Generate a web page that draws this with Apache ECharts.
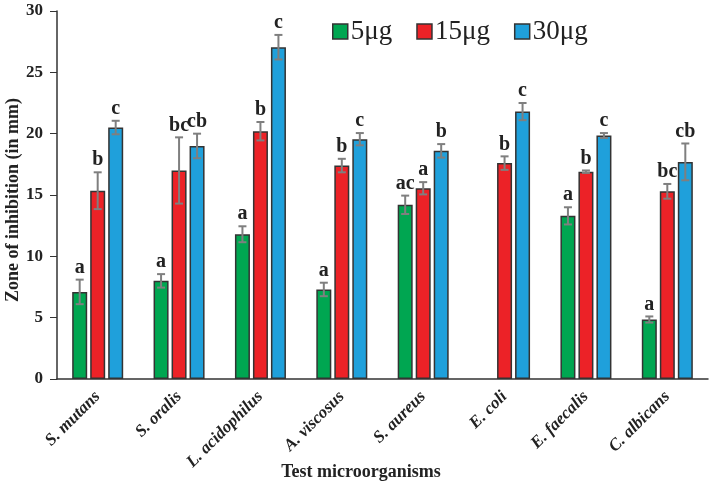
<!DOCTYPE html>
<html><head><meta charset="utf-8">
<script src="https://cdn.jsdelivr.net/npm/echarts@6/dist/echarts.min.js"></script>
<style>html,body{margin:0;padding:0;background:#fff}#c{width:710px;height:487px}</style>
</head><body><div id="c"></div>
<script>
var categories = ['S. mutans','S. oralis','L. acidophilus','A. viscosus','S. aureus','E. coli','E. faecalis','C. albicans'];
var seriesNames = ['5\u03bcg','15\u03bcg','30\u03bcg'];
var values5 = [7.1, 8.0, 11.8, 7.3, 14.2, null, 13.3, 4.85];
var values15 = [15.35, 17.0, 20.2, 17.4, 15.55, 17.6, 16.9, 15.3];
var values30 = [20.5, 19.0, 27.05, 19.55, 18.6, 21.8, 19.85, 17.7];
var err5 = [1.0, 0.55, 0.65, 0.55, 0.75, null, 0.7, 0.25];
var err15 = [1.5, 2.7, 0.75, 0.55, 0.5, 0.55, 0.1, 0.6];
var err30 = [0.55, 1.0, 1.0, 0.5, 0.55, 0.7, 0.2, 1.5];
var letters5 = ['a','a','a','a','ac','','a','a'];
var letters15 = ['b','bc','b','b','a','b','b','bc'];
var letters30 = ['c','cb','c','c','b','c','c','cb'];
var yTicks = [0,5,10,15,20,25,30];
var xTitle = 'Test microorganisms';
var yTitle = 'Zone of inhibition (in mm)';

var colors = ['#00A651','#EC2227','#1FA0DB'];
var allValues = [values5, values15, values30];
var allErr = [err5, err15, err30];
var allLetters = [letters5, letters15, letters30];
var BAR_W = 15, GAP = 0.2;
var serif = 'Liberation Serif, Times New Roman, serif';

var series = [];
allValues.forEach(function(v, i){
  series.push({
    name: seriesNames[i], type: 'bar', data: v, barWidth: BAR_W, barGap: (GAP*100)+'%',
    itemStyle: {color: colors[i], borderColor: '#333', borderWidth: 1.5},
    z: 2
  });
});
allValues.forEach(function(v, i){
  var d = v.map(function(val, k){ return [k, val, allErr[i][k], allLetters[i][k]]; }).filter(function(r){return r[1]!=null;});
  series.push({
    type: 'custom', name: 'err'+i, data: d, z: 5,
    renderItem: function(params, api){
      var k = api.value(0), val = api.value(1), e = api.value(2);
      var txt = d[params.dataIndex][3];
      var off = (i-1)*BAR_W*(1+GAP);
      var top = api.coord([k, val+e]);
      var bot = api.coord([k, val-e]);
      var x = top[0]+off, cap = 4;
      var st = {stroke:'#7f7f7f', lineWidth:2};
      return {type:'group', children:[
        {type:'line', shape:{x1:x,y1:top[1],x2:x,y2:bot[1]}, style:st},
        {type:'line', shape:{x1:x-cap,y1:top[1],x2:x+cap,y2:top[1]}, style:st},
        {type:'line', shape:{x1:x-cap,y1:bot[1],x2:x+cap,y2:bot[1]}, style:st},
        {type:'text', style:{text:txt, x:x, y:top[1]-2, align:'center', verticalAlign:'bottom', font:'bold 20px '+serif, fill:'#222'}}
      ]};
    }
  });
});

var chart = echarts.init(document.getElementById('c'));
chart.setOption({
  animation:false,
  color: colors,
  title: {
    text: xTitle, left: 356, top: 458, textAlign: 'center',
    textStyle: {fontFamily: serif, fontWeight:'bold', fontSize:18, color:'#222'}
  },
  graphic: [{
    type: 'text', x: 13, y: 200, rotation: Math.PI/2,
    style: {text: yTitle, align:'center', verticalAlign:'middle', font:'bold 18px '+serif, fill:'#222'}
  }],
  legend: {
    data: seriesNames, top: 13, left: 327, itemWidth: 15, itemHeight: 15, itemGap: 24,
    icon: 'rect',
    itemStyle: {borderColor:'#333', borderWidth:1.5},
    textStyle: {fontFamily: serif, fontSize: 27, color:'#222', padding:[0,0,0,-2]}
  },
  grid: {left: 57, right: 2, top: 11, bottom: 108, outerBoundsMode: 'none'},
  xAxis: {
    type:'category', data: categories,
    axisLine:{lineStyle:{color:'#333', width:1.5}},
    axisTick:{show:false},
    axisLabel:{rotate:45, interval:0, fontFamily: serif, fontStyle:'italic', fontWeight:'bold', fontSize:17, color:'#222', margin:15}
  },
  yAxis: {
    type:'value', min: yTicks[0], max: yTicks[yTicks.length-1], interval: 5,
    axisLine:{show:true, lineStyle:{color:'#333', width:1.5}},
    axisTick:{show:true, length:7, lineStyle:{color:'#333'}},
    splitLine:{show:false},
    axisLabel:{fontFamily: serif, fontWeight:'bold', fontSize:17, color:'#222', margin:14}
  },
  series: series
});
</script></body></html>
